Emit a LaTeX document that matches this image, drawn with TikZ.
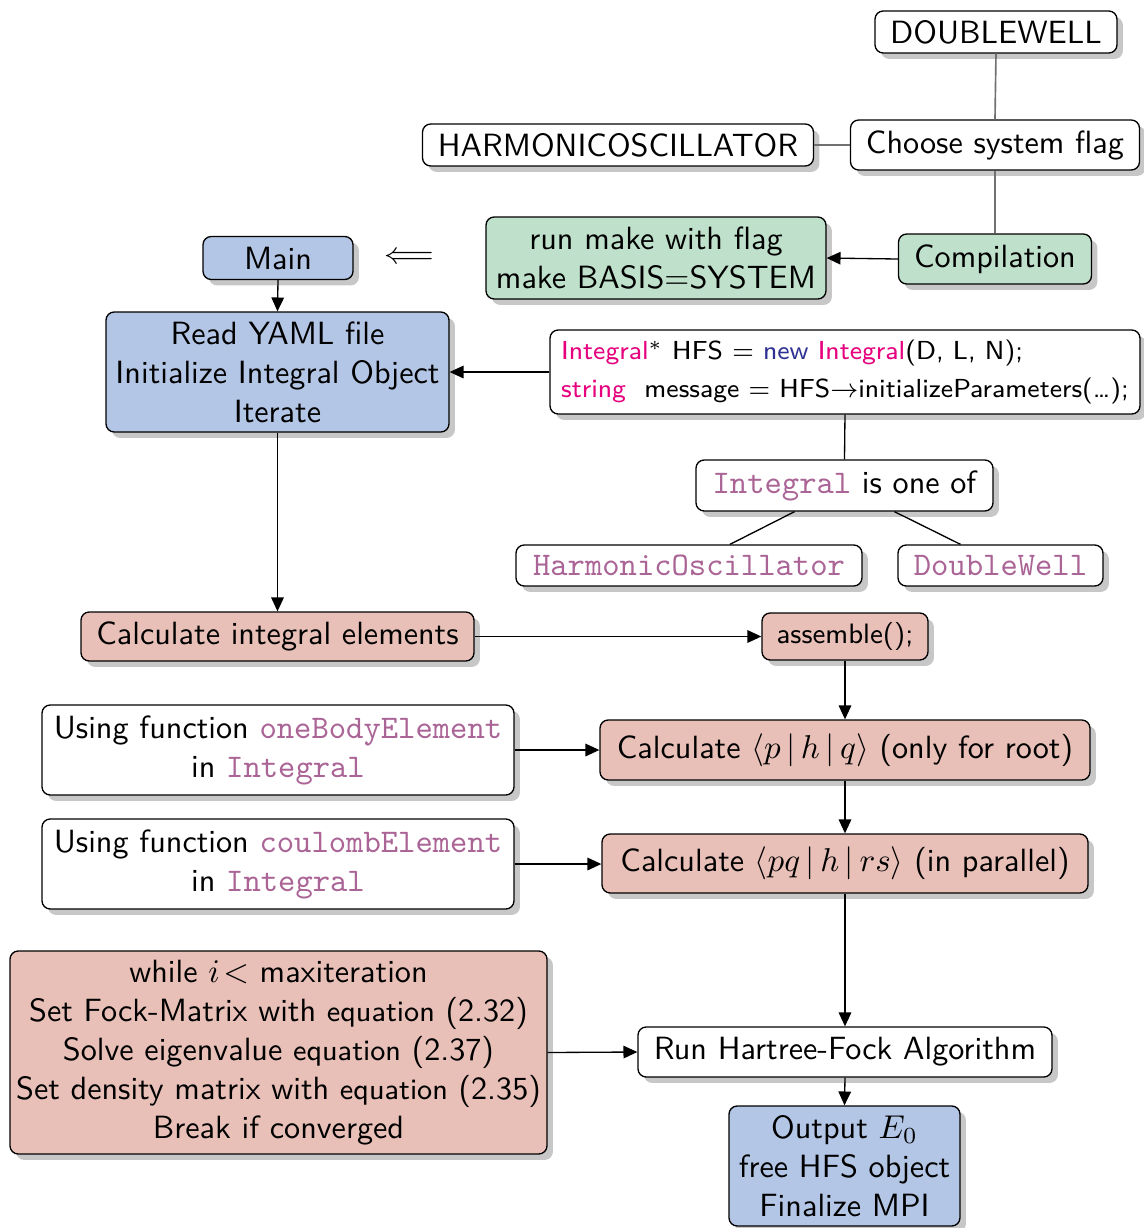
\documentclass[tikz,border=0pt]{standalone}
\usetikzlibrary{arrows.meta,shadows}
\newcommand\pxu{0.303pt}
\definecolor{fillblue}{HTML}{B3C6E5}
\definecolor{fillgreen}{HTML}{BFE0CB}
\definecolor{fillred}{HTML}{E8C0B8}
\definecolor{ttmauve}{HTML}{AA6496}
\definecolor{kwmag}{HTML}{E6007E}
\definecolor{kwblue}{HTML}{2E3192}
\definecolor{linkgray}{HTML}{707070}
\newcommand\code[1]{{\fontsize{10}{11.6}\ttfamily\color{ttmauve}#1}}
\newcommand\eqw[1]{{\fontsize{8.9}{10}\selectfont #1}}
\tikzset{
  box/.style={draw, line width=0.4pt, rounded corners=2.5pt, fill=white,
    align=center, inner sep=0pt,
    font=\sffamily\fontsize{9.75}{11.8}\selectfont,
    drop shadow={shadow xshift=1.8pt, shadow yshift=-1.8pt, fill=black!22, opacity=1}},
  bluebox/.style={box, fill=fillblue},
  greenbox/.style={box, fill=fillgreen},
  redbox/.style={box, fill=fillred},
  sz/.style 2 args={minimum width=#1*\pxu, minimum height=#2*\pxu},
  flow/.style={draw, line width=0.4pt, -{Triangle[length=4.2pt,width=3.8pt]}},
  link/.style={draw, line width=0.4pt},
  graylink/.style={draw, line width=0.5pt, linkgray},
}
\begin{document}
\begin{tikzpicture}[x=\pxu, y=-\pxu]
\useasboundingbox (0,0) rectangle (1144,1228);

% build system
\node[box, sz={242}{42}] (dw) at (996,32) {DOUBLEWELL};
\node[box, sz={391}{42}] (ho) at (618,145) {HARMONICOSCILLATOR};
\node[box, sz={289}{50}] (csf) at (995,145) {Choose system flag};
\node[greenbox, sz={193}{50}] (comp) at (995,259) {Compilation};
\node[greenbox, sz={340}{82}] (make) at (656,258) {run make with flag\\make BASIS=SYSTEM};
\node[bluebox, sz={150}{43}] (main) at (278,258) {Main};
\node[inner sep=0pt, font=\fontsize{9.5}{11}\selectfont] (larrow) at (409,258) {$\Longleftarrow$};

% setup
\node[box, sz={590}{84}, align=left, font=\sffamily\fontsize{7.9}{11.5}\selectfont] (code) at (845,372)
  {\textcolor{kwmag}{Integral}$^*$ HFS = \textcolor{kwblue}{new} \textcolor{kwmag}{Integral}(D, L, N);\\
   \textcolor{kwmag}{string}\ \ message = HFS$\rightarrow$initializeParameters(\ldots);};
\node[bluebox, sz={343}{120}] (yaml) at (277.5,372) {Read YAML file\\Initialize Integral Object\\Iterate};
\node[box, sz={297}{51}] (oneof) at (844.5,485.5) {\code{Integral} is one of};
\node[box, sz={346}{41}] (hosc) at (689,565.5) {\code{HarmonicOscillator}};
\node[box, sz={205}{41}] (dwell) at (1000.5,565.5) {\code{DoubleWell}};

% integrals
\node[redbox, sz={393}{49}] (calc) at (277.5,636.5) {Calculate integral elements};
\node[redbox, sz={166}{47}, font=\sffamily\fontsize{8.5}{10}\selectfont] (asm) at (845,636.5) {assemble();};
\node[box, sz={472}{90}] (useone) at (278,750) {Using function \code{oneBodyElement}\\in \code{Integral}};
\node[redbox, sz={490}{60}] (phq) at (845,750)
  {Calculate $\left\langle p\,\middle|\,h\,\middle|\,q\right\rangle$ (only for root)};
\node[box, sz={472}{90}] (usecoul) at (278,864) {Using function \code{coulombElement}\\in \code{Integral}};
\node[redbox, sz={486}{59}] (pqrs) at (845,863.5)
  {Calculate $\left\langle pq\,\middle|\,h\,\middle|\,rs\right\rangle$ (in parallel)};

% Hartree-Fock
\node[redbox, sz={537}{203}] (loop) at (278.5,1052.5)
  {while $i\!<$ maxiteration\\
   Set Fock-Matrix with \eqw{equation} (2.32)\\
   Solve eigenvalue \eqw{equation} (2.37)\\
   Set density matrix with \eqw{equation} (2.35)\\
   Break if converged};
\node[box, sz={414}{50}] (hf) at (845,1052) {Run Hartree-Fock Algorithm};
\node[bluebox, sz={231}{120}] (out) at (844.5,1166) {Output $E_0$\\free HFS object\\Finalize MPI};

% connectors
\path[graylink] (dw.south) -- (csf.north);
\path[graylink] (ho.east) -- (csf.west);
\path[graylink] (csf.south) -- (comp.north);
\path[flow] (comp.west) -- (make.east);
\path[flow] (main.south) -- (yaml.north);
\path[flow] (code.west) -- (yaml.east);
\path[link] (code.south) -- (oneof.north);
\path[link] ([xshift=-50*\pxu]oneof.south) -- ([xshift=41*\pxu]hosc.north);
\path[link] ([xshift=50*\pxu]oneof.south) -- ([xshift=-40*\pxu]dwell.north);
\path[flow] (yaml.south) -- (calc.north);
\path[flow] (calc.east) -- (asm.west);
\path[flow] (asm.south) -- (phq.north);
\path[flow] (useone.east) -- (phq.west);
\path[flow] (phq.south) -- (pqrs.north);
\path[flow] (usecoul.east) -- (usecoul.east -| pqrs.west);
\path[flow] (pqrs.south) -- (hf.north);
\path[flow] (loop.east) -- (hf.west);
\path[flow] (hf.south) -- (out.north);
\end{tikzpicture}
\end{document}
